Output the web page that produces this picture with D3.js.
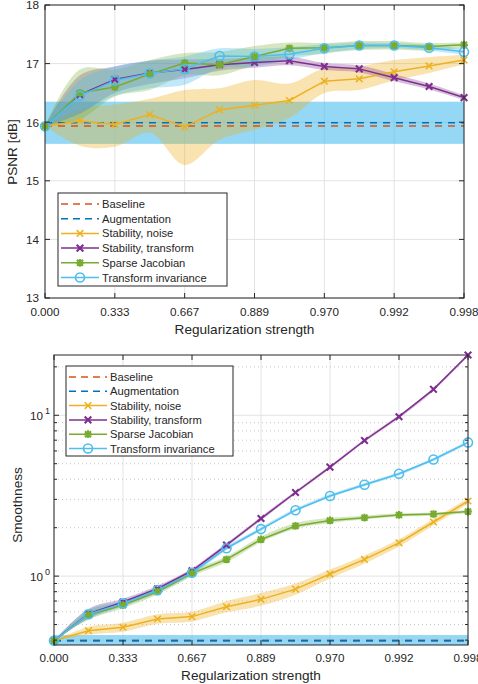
<!DOCTYPE html>
<html><head><meta charset="utf-8">
<script src="https://cdn.jsdelivr.net/npm/d3@7"></script>
<style>
body{margin:0;background:#fff}
text{font-family:"Liberation Sans",Arial,Helvetica,sans-serif;fill:#262626}
</style>
</head><body>
<svg id="c" width="478" height="684"></svg>
<script>
// ---------------- data ----------------
const xTickLabels = ["0.000","0.333","0.667","0.889","0.970","0.992","0.998"];
const nPoints = 13;
const seriesNames = ["Baseline","Augmentation","Stability, noise","Stability, transform","Sparse Jacobian","Transform invariance"];
const seriesColors = ["#D95319","#0072BD","#EDB120","#7E2F8E","#77AC30","#4DBEEE"];
const seriesMarkers = ["none","none","x","xb","star","o"];

// PSNR panel
const psnrTicks = [13,14,15,16,17,18];
const psnrBaseline = 15.935;
const psnrAugmentation = 15.99;
const psnrAugLow = 15.63, psnrAugHigh = 16.35;
const psnrNoise     = [15.93,16.02,15.96,16.13,15.92,16.21,16.29,16.37,16.70,16.74,16.86,16.96,17.06];
const psnrNoiseLo   = [15.93,15.60,15.58,15.82,15.27,15.70,15.87,16.07,16.50,16.55,16.71,16.84,16.99];
const psnrNoiseHi   = [15.93,16.22,16.30,16.40,16.55,16.58,16.72,16.66,16.92,16.95,17.06,17.11,17.15];
const psnrTransform   = [15.93,16.47,16.73,16.84,16.90,16.98,17.02,17.05,16.95,16.91,16.76,16.61,16.42];
const psnrTransformLo = [15.93,16.15,16.50,16.65,16.75,16.88,16.93,16.97,16.89,16.85,16.70,16.56,16.38];
const psnrTransformHi = [15.93,16.80,16.95,17.05,17.07,17.08,17.10,17.12,17.01,16.97,16.82,16.66,16.46];
const psnrJacobian   = [15.93,16.50,16.60,16.82,17.01,16.98,17.12,17.26,17.27,17.31,17.31,17.29,17.32];
const psnrJacobianLo = [15.93,16.05,16.44,16.55,16.80,16.80,16.97,17.12,17.17,17.23,17.24,17.22,17.27];
const psnrJacobianHi = [15.93,16.90,16.90,17.06,17.18,17.20,17.30,17.36,17.35,17.38,17.38,17.35,17.36];
const psnrInvariance   = [15.93,16.45,16.71,16.83,16.91,17.13,17.12,17.16,17.26,17.31,17.31,17.27,17.20];
const psnrInvarianceLo = [15.93,16.15,16.45,16.58,16.64,16.92,16.95,17.06,17.18,17.25,17.26,17.22,17.15];
const psnrInvarianceHi = [15.93,16.72,16.95,17.05,17.12,17.26,17.25,17.28,17.33,17.36,17.35,17.32,17.25];

// Smoothness panel (log scale)
const smDomain = [0.373, 23.7];
const smBaseline = 0.397;
const smAugmentation = 0.397;
const smAugLow = 0.367, smAugHigh = 0.43;
const smNoise      = [0.397,0.458,0.481,0.541,0.560,0.645,0.717,0.83,1.03,1.27,1.61,2.17,2.93];
const smNoiseSpread= [0,0.025,0.028,0.03,0.03,0.035,0.04,0.035,0.028,0.025,0.022,0.02,0.018];
const smTransform  = [0.397,0.585,0.69,0.835,1.08,1.56,2.28,3.31,4.76,6.97,9.8,14.5,23.7];
const smTransformSpread = [0,0.03,0.02,0.018,0.015,0.012,0.012,0.01,0.01,0.01,0.01,0.01,0.01];
const smJacobian   = [0.397,0.573,0.66,0.80,1.04,1.27,1.69,2.05,2.22,2.31,2.40,2.43,2.52];
const smJacobianSpread = [0,0.03,0.02,0.018,0.018,0.018,0.018,0.018,0.016,0.012,0.01,0.01,0.01];
const smInvariance = [0.397,0.579,0.677,0.819,1.05,1.49,1.96,2.57,3.15,3.70,4.33,5.31,6.78];
const smInvarianceSpread = [0,0.03,0.02,0.018,0.015,0.012,0.012,0.01,0.01,0.01,0.01,0.01,0.01];

// ---------------- drawing ----------------
const svg = d3.select("#c");
const AX = "#262626";
const TICK_FS = 11.7, LABEL_FS = 13.6, LEGEND_FS = 11.2;

function markerPath(type, s){
  if(type==="x"||type==="xb") return `M${-s},${-s}L${s},${s}M${-s},${s}L${s},${-s}`;
  if(type==="star") return `M${-s},${-s}L${s},${s}M${-s},${s}L${s},${-s}M0,${-s*1.3}V${s*1.3}M${-s*1.3},0H${s*1.3}`;
  return "";
}
function drawMarker(g, type, color, x, y){
  if(type==="o"){
    g.append("circle").attr("cx",x).attr("cy",y).attr("r",4.5)
      .attr("fill","none").attr("stroke",color).attr("stroke-width",1.6);
  } else if(type!=="none"){
    g.append("path").attr("transform",`translate(${x},${y})`)
      .attr("d",markerPath(type, type==="star"?3:3.3)).attr("fill","none")
      .attr("stroke",color).attr("stroke-width",type==="x"?1.5:2.1);
  }
}

function panel(opt){
  const {left,right,top,bottom,y,series,augLow,augHigh,baseVal,augVal,clipId} = opt;
  const x = d3.scaleLinear().domain([0,nPoints-1]).range([left,right]);
  const g = svg.append("g");
  svg.append("clipPath").attr("id",clipId).append("rect")
    .attr("x",left).attr("y",top).attr("width",right-left).attr("height",bottom-top);

  // grid
  const grid = g.append("g");
  xTickLabels.forEach((t,i)=>{
    grid.append("line").attr("x1",x(i*2)).attr("x2",x(i*2)).attr("y1",top).attr("y2",bottom)
      .attr("stroke","#e3e3e3").attr("stroke-width",1);
  });
  opt.gridY(grid, x);

  const plot = g.append("g").attr("clip-path",`url(#${clipId})`);
  plot.append("rect").attr("x",left).attr("width",right-left)
    .attr("y",y(augHigh)).attr("height",y(augLow)-y(augHigh))
    .attr("fill","#4DBEEE").attr("opacity",0.6);
  series.forEach(s=>{
    const area = d3.area().x((d,i)=>x(i)).y0(d=>y(d[0])).y1(d=>y(d[1])).curve(d3.curveCatmullRom.alpha(0.5));
    plot.append("path").datum(s.band).attr("d",area).attr("fill",s.color).attr("opacity",s.bandOpacity||0.3);
  });
  [[baseVal,seriesColors[0]],[augVal,seriesColors[1]]].forEach(([v,c])=>{
    plot.append("line").attr("x1",left).attr("x2",right).attr("y1",y(v)).attr("y2",y(v))
      .attr("stroke",c).attr("stroke-width",1.6).attr("stroke-dasharray","7,6");
  });
  series.forEach(s=>{
    const line = d3.line().x((d,i)=>x(i)).y(d=>y(d));
    plot.append("path").datum(s.values).attr("d",line).attr("fill","none")
      .attr("stroke",s.color).attr("stroke-width",1.5);
  });
  const mg = g.append("g");
  series.forEach(s=>{
    s.values.forEach((v,i)=>drawMarker(mg,s.marker,s.color,x(i),y(v)));
  });

  // box
  g.append("rect").attr("x",left).attr("y",top).attr("width",right-left).attr("height",bottom-top)
    .attr("fill","none").attr("stroke",AX).attr("stroke-width",1);
  xTickLabels.forEach((t,i)=>{
    const xx = x(i*2);
    g.append("line").attr("x1",xx).attr("x2",xx).attr("y1",bottom).attr("y2",bottom-5).attr("stroke",AX);
    g.append("line").attr("x1",xx).attr("x2",xx).attr("y1",top).attr("y2",top+5).attr("stroke",AX);
    g.append("text").attr("x",xx).attr("y",opt.xTickY).attr("text-anchor","middle")
      .attr("font-size",TICK_FS).text(t);
  });
  g.append("text").attr("x",(left+right)/2 - 10).attr("y",opt.xLabelY).attr("text-anchor","middle")
    .attr("font-size",LABEL_FS).text("Regularization strength");
  g.append("text").attr("transform",`translate(${opt.yLabelX},${opt.yLabelY}) rotate(-90)`)
    .attr("text-anchor","middle").attr("font-size",LABEL_FS).text(opt.yLabel);
  opt.yTicks(g, x);

  // legend
  const L = opt.legend;
  const lg = g.append("g");
  lg.append("rect").attr("x",L.x).attr("y",L.y).attr("width",L.w).attr("height",L.h)
    .attr("fill","#fff").attr("stroke",AX).attr("stroke-width",1);
  seriesNames.forEach((n,i)=>{
    const yy = L.y + 11 + i*L.step;
    const dashed = i<2;
    lg.append("line").attr("x1",L.x+3).attr("x2",L.x+41).attr("y1",yy).attr("y2",yy)
      .attr("stroke",seriesColors[i]).attr("stroke-width",1.5)
      .attr("stroke-dasharray",dashed?"7,5":null);
    drawMarker(lg,seriesMarkers[i],seriesColors[i],L.x+22,yy);
    lg.append("text").attr("x",L.x+44).attr("y",yy+4).attr("font-size",LEGEND_FS).text(n);
  });
}

// ---- top panel: PSNR ----
{
  const top=5, bottom=298, left=45, right=464;
  const y = d3.scaleLinear().domain([13,18]).range([bottom,top]);
  const zip = (lo,hi)=>lo.map((v,i)=>[v,hi[i]]);
  panel({
    left,right,top,bottom,y,clipId:"clipTop",
    augLow:psnrAugLow, augHigh:psnrAugHigh, baseVal:psnrBaseline, augVal:psnrAugmentation,
    series:[
      {values:psnrNoise,band:zip(psnrNoiseLo,psnrNoiseHi),color:seriesColors[2],marker:"x",bandOpacity:0.35},
      {values:psnrTransform,band:zip(psnrTransformLo,psnrTransformHi),color:seriesColors[3],marker:"xb",bandOpacity:0.3},
      {values:psnrJacobian,band:zip(psnrJacobianLo,psnrJacobianHi),color:seriesColors[4],marker:"star",bandOpacity:0.3},
      {values:psnrInvariance,band:zip(psnrInvarianceLo,psnrInvarianceHi),color:seriesColors[5],marker:"o",bandOpacity:0.35}
    ],
    gridY:(grid)=>{
      psnrTicks.forEach(t=>grid.append("line").attr("x1",left).attr("x2",right).attr("y1",y(t)).attr("y2",y(t))
        .attr("stroke","#e3e3e3"));
    },
    yTicks:(g)=>{
      psnrTicks.forEach(t=>{
        g.append("line").attr("x1",left).attr("x2",left+5).attr("y1",y(t)).attr("y2",y(t)).attr("stroke",AX);
        g.append("line").attr("x1",right).attr("x2",right-5).attr("y1",y(t)).attr("y2",y(t)).attr("stroke",AX);
        g.append("text").attr("x",left-6).attr("y",y(t)+4.3).attr("text-anchor","end").attr("font-size",TICK_FS).text(t);
      });
    },
    xTickY:316, xLabelY:334, yLabelX:17, yLabelY:152, yLabel:"PSNR [dB]",
    legend:{x:58,y:193,w:169,h:93,step:14.7}
  });
}

// ---- bottom panel: Smoothness ----
{
  const top=355, bottom=645, left=54, right=468;
  const y = d3.scaleLog().domain(smDomain).range([bottom,top]);
  const bandOf = (v,s)=>v.map((d,i)=>[d/Math.pow(10,s[i]), d*Math.pow(10,s[i])]);
  const minor = [0.4,0.5,0.6,0.7,0.8,0.9,2,3,4,5,6,7,8,9,20];
  const major = [1,10];
  panel({
    left,right,top,bottom,y,clipId:"clipBot",
    augLow:smAugLow, augHigh:smAugHigh, baseVal:smBaseline, augVal:smAugmentation,
    series:[
      {values:smNoise,band:bandOf(smNoise,smNoiseSpread),color:seriesColors[2],marker:"x",bandOpacity:0.35},
      {values:smTransform,band:bandOf(smTransform,smTransformSpread),color:seriesColors[3],marker:"xb",bandOpacity:0.3},
      {values:smJacobian,band:bandOf(smJacobian,smJacobianSpread),color:seriesColors[4],marker:"star",bandOpacity:0.3},
      {values:smInvariance,band:bandOf(smInvariance,smInvarianceSpread),color:seriesColors[5],marker:"o",bandOpacity:0.35}
    ],
    gridY:(grid)=>{
      minor.forEach(t=>grid.append("line").attr("x1",left).attr("x2",right).attr("y1",y(t)).attr("y2",y(t))
        .attr("stroke","#c8c8c8").attr("stroke-dasharray","1,3"));
      major.forEach(t=>grid.append("line").attr("x1",left).attr("x2",right).attr("y1",y(t)).attr("y2",y(t))
        .attr("stroke","#e3e3e3"));
    },
    yTicks:(g)=>{
      minor.forEach(t=>{
        g.append("line").attr("x1",left).attr("x2",left+3).attr("y1",y(t)).attr("y2",y(t)).attr("stroke",AX);
        g.append("line").attr("x1",right).attr("x2",right-3).attr("y1",y(t)).attr("y2",y(t)).attr("stroke",AX);
      });
      major.forEach(t=>{
        g.append("line").attr("x1",left).attr("x2",left+5).attr("y1",y(t)).attr("y2",y(t)).attr("stroke",AX);
        g.append("line").attr("x1",right).attr("x2",right-5).attr("y1",y(t)).attr("y2",y(t)).attr("stroke",AX);
        const tx = g.append("text").attr("x",left-4).attr("y",y(t)+5).attr("text-anchor","end").attr("font-size",TICK_FS);
        tx.append("tspan").text("10");
        tx.append("tspan").attr("dy",-6).attr("dx",2).attr("font-size",9).text(String(Math.round(Math.log10(t))));
      });
    },
    xTickY:662, xLabelY:680, yLabelX:21.5, yLabelY:505, yLabel:"Smoothness",
    legend:{x:66,y:366,w:167,h:90,step:14.3}
  });
}
</script>
</body></html>
